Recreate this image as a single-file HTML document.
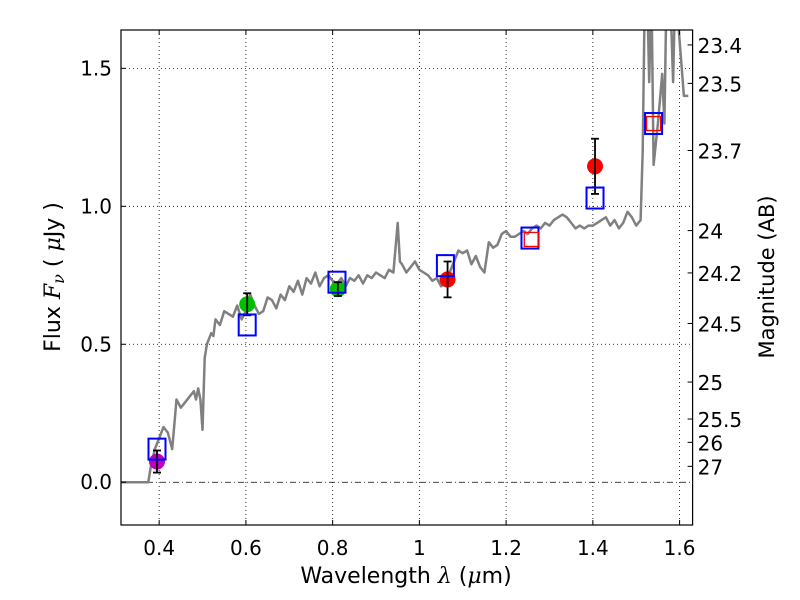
<!DOCTYPE html>
<html><head><meta charset="utf-8"><style>
body{margin:0;background:#fff}
svg{display:block;font-family:"DejaVu Sans","Liberation Sans",sans-serif}
</style></head><body>
<svg id="chart" width="800" height="600" viewBox="0 0 800 600" xmlns="http://www.w3.org/2000/svg">
<defs><clipPath id="clip"><rect x="121" y="30" width="571.6" height="495"/></clipPath></defs>
<rect x="0" y="0" width="800" height="600" fill="#fff"/>
<g id="grid"></g>
<g id="spec" clip-path="url(#clip)"></g>
<g id="marks" clip-path="url(#clip)"></g>
<rect x="121" y="30" width="571.6" height="495" fill="none" stroke="#000" stroke-width="1.2"/>
<g id="axes"></g>
<text x="406" y="583" font-size="22" text-anchor="middle">Wavelength  <tspan font-family="DejaVu Serif" font-style="italic">λ</tspan> (<tspan font-family="DejaVu Serif" font-style="italic">μ</tspan>m)</text>
<text transform="translate(60,277) rotate(-90)" font-size="22" text-anchor="middle">Flux  <tspan font-family="DejaVu Serif" font-style="italic">F<tspan font-size="16" dy="4">ν</tspan></tspan><tspan dy="-4">  (  </tspan><tspan font-family="DejaVu Serif" font-style="italic">μ</tspan>Jy )</text>
<text transform="translate(774,277) rotate(-90)" font-size="21" text-anchor="middle">Magnitude (AB)</text>
</svg>
<script>
const xTicks=[0.4,0.6,0.8,1.0,1.2,1.4,1.6];
const xTickLabels=["0.4","0.6","0.8","1","1.2","1.4","1.6"];
const yTicks=[0,0.5,1.0,1.5];
const yTickLabels=["0.0","0.5","1.0","1.5"];
const magTicks=[23.4,23.5,23.7,24,24.2,24.5,25,25.5,26,27];
const magLabels=["23.4","23.5","23.7","24","24.2","24.5","25","25.5","26","27"];
const specWave=[0.31,0.375,0.38,0.39,0.40,0.41,0.42,0.43,0.44,0.45,0.46,0.47,0.48,0.485,0.49,0.495,0.50,0.505,0.51,0.52,0.525,0.53,0.54,0.55,0.56,0.57,0.58,0.59,0.60,0.61,0.62,0.63,0.64,0.65,0.66,0.67,0.68,0.69,0.70,0.71,0.72,0.73,0.74,0.75,0.76,0.77,0.78,0.79,0.80,0.81,0.82,0.83,0.84,0.85,0.86,0.87,0.88,0.89,0.90,0.91,0.92,0.93,0.94,0.95,0.955,0.96,0.97,0.98,0.99,1.00,1.01,1.02,1.03,1.04,1.05,1.06,1.07,1.08,1.09,1.10,1.11,1.12,1.13,1.14,1.15,1.16,1.17,1.18,1.19,1.20,1.21,1.22,1.23,1.24,1.25,1.26,1.27,1.28,1.29,1.30,1.31,1.32,1.33,1.34,1.35,1.36,1.37,1.38,1.39,1.40,1.41,1.42,1.43,1.44,1.45,1.46,1.47,1.48,1.49,1.50,1.51,1.515,1.52,1.525,1.53,1.535,1.54,1.55,1.56,1.565,1.57,1.58,1.585,1.59,1.595,1.60,1.61,1.62,1.63];
const specFlux=[0,0,0.05,0.12,0.16,0.20,0.18,0.12,0.30,0.27,0.29,0.31,0.33,0.30,0.34,0.30,0.19,0.45,0.50,0.54,0.53,0.59,0.57,0.62,0.61,0.60,0.64,0.59,0.62,0.68,0.64,0.61,0.62,0.67,0.66,0.63,0.68,0.66,0.71,0.69,0.73,0.68,0.74,0.72,0.76,0.71,0.74,0.75,0.73,0.72,0.74,0.71,0.74,0.73,0.75,0.72,0.75,0.74,0.76,0.75,0.74,0.77,0.76,0.94,0.80,0.79,0.76,0.78,0.80,0.77,0.76,0.75,0.73,0.74,0.71,0.72,0.76,0.80,0.84,0.83,0.84,0.79,0.82,0.78,0.76,0.87,0.85,0.86,0.90,0.91,0.89,0.89,0.90,0.91,0.90,0.92,0.93,0.92,0.94,0.93,0.95,0.96,0.97,0.96,0.94,0.92,0.93,0.92,0.93,0.93,0.94,0.95,0.96,0.93,0.95,0.92,0.94,0.98,0.96,0.93,0.95,1.2,1.8,1.8,1.45,1.8,1.15,1.3,1.48,1.3,1.8,1.7,1.45,1.8,1.7,1.6,1.40,1.40];
const ptWave=[0.395,0.603,0.812,1.065,1.405];
const ptFlux=[0.075,0.645,0.70,0.735,1.145];
const ptErr=[0.04,0.04,0.025,0.065,0.10];
const ptColor=["#bf00bf","#00bf00","#00bf00","#ff0000","#ff0000"];
const modelWave=[0.395,0.603,0.81,1.06,1.255,1.405,1.54];
const modelFlux=[0.12,0.57,0.725,0.785,0.885,1.03,1.30];
const obsModelWave=[1.258,1.54];
const obsModelFlux=[0.88,1.30];

const NS="http://www.w3.org/2000/svg";
const L=121,R=692.6,T=30,B=525,XMIN=0.312,XMAX=1.63,YMIN=-0.155,YMAX=1.639;
function xs(v){return L+(v-XMIN)/(XMAX-XMIN)*(R-L);}
function ys(v){return B-(v-YMIN)/(YMAX-YMIN)*(B-T);}
function magY(m){return ys(Math.pow(10,(23.9-m)/2.5));}
function mk(tag,at,parent){const e=document.createElementNS(NS,tag);for(const k in at)e.setAttribute(k,at[k]);parent.appendChild(e);return e;}
const grid=document.getElementById('grid'),axes=document.getElementById('axes'),spec=document.getElementById('spec'),marks=document.getElementById('marks');

xTicks.forEach((t,i)=>{const x=xs(t);
 const g=mk('line',{x1:x,x2:x,y1:T,y2:B,stroke:'#000','stroke-width':0.8,'stroke-dasharray':'1,3'},grid);
 
 
 mk('line',{x1:x,x2:x,y1:B,y2:B-5,stroke:'#000'},axes);
 mk('line',{x1:x,x2:x,y1:T,y2:T+5,stroke:'#000'},axes);
 const tx=mk('text',{x:x,y:B+30,'font-size':20,'text-anchor':'middle'},axes);tx.textContent=xTickLabels[i];
 
 
});
yTicks.forEach((t,i)=>{const y=ys(t);
 const g=mk('line',{x1:L,x2:R,y1:y,y2:y,stroke:'#000','stroke-width':0.8,'stroke-dasharray':t===0?'6,3,1,3':'1,3'},grid);
 
 
 mk('line',{x1:L,x2:L+5,y1:y,y2:y,stroke:'#000'},axes);
 const tx=mk('text',{x:L-9,y:y+7,'font-size':20,'text-anchor':'end'},axes);tx.textContent=yTickLabels[i];
 
 
});
magTicks.forEach((m,i)=>{const y=magY(m);
 mk('line',{x1:R,x2:R-5,y1:y,y2:y,stroke:'#000'},axes);
 const tx=mk('text',{x:R+5,y:y+8,'font-size':20},axes);tx.textContent=magLabels[i];
 
 
});
const d=specWave.map((w,i)=>(i?'L':'M')+xs(w).toFixed(1)+','+ys(specFlux[i]).toFixed(1)).join('');
const sp=mk('path',{d:d,fill:'none',stroke:'#808080','stroke-width':2.5,'stroke-linejoin':'round'},spec);


ptWave.forEach((w,i)=>{const x=xs(w),y=ys(ptFlux[i]);
 const c=mk('circle',{cx:x,cy:y,r:8,fill:ptColor[i]},marks);
 
 
 const y1=ys(ptFlux[i]+ptErr[i]),y2=ys(ptFlux[i]-ptErr[i]);
 mk('line',{x1:x,x2:x,y1:y1,y2:y2,stroke:'#000','stroke-width':1.8},marks);
 mk('line',{x1:x-4,x2:x+4,y1:y1,y2:y1,stroke:'#000','stroke-width':1.8},marks);
 mk('line',{x1:x-4,x2:x+4,y1:y2,y2:y2,stroke:'#000','stroke-width':1.8},marks);
});
modelWave.forEach((w,i)=>{const x=xs(w),y=ys(modelFlux[i]);
 const r=mk('rect',{x:x-8.5,y:y-10.5,width:17,height:21,fill:'none',stroke:'#0000ff','stroke-width':2},marks);
 
 
});
obsModelWave.forEach((w,i)=>{const x=xs(w),y=ys(obsModelFlux[i]);
 const r=mk('rect',{x:x-7,y:y-7,width:14,height:14,fill:'none',stroke:'#ff0000','stroke-width':1.3},marks);
 
 
});
</script>
</body></html>
